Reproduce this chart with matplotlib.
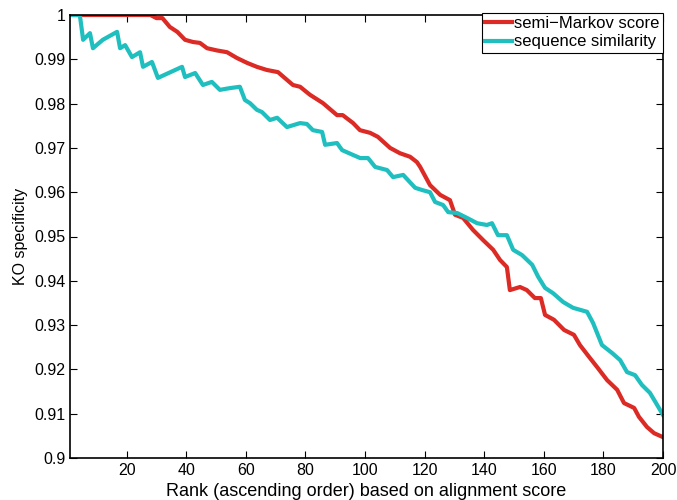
import matplotlib
matplotlib.use('Agg')
import matplotlib.pyplot as plt

plt.rcParams['font.family'] = ['Liberation Sans', 'DejaVu Sans']

# semi-Markov score curve (rank, specificity)
markov_rank = [1, 28, 30, 32, 34.5, 37, 39.6, 42.3, 44.6, 47, 50.3, 53.7, 57, 60.4, 63.7,
               67, 70.8, 75.8, 78.2, 81.5, 85.9, 90.6, 92.5, 96, 98.3, 101.7, 104.3,
               108.4, 111.7, 115.1, 117.4, 118.5, 121.8, 125.2, 128.5, 130.2, 132.9,
               136.2, 139.6, 143, 145.3, 147.6, 148.6, 152, 154.3, 157, 159, 160.4,
               163.4, 166.8, 170.1, 172.1, 175.2, 177.9, 181.2, 184.6, 186.9, 190.3,
               191.9, 194.6, 197, 200]
markov_spec = [1, 1, 0.9993, 0.9993, 0.9973, 0.9962, 0.9944, 0.9939, 0.9937, 0.9925,
               0.992, 0.9916, 0.9903, 0.9892, 0.9883, 0.9876, 0.9871, 0.9842, 0.9838,
               0.982, 0.9801, 0.9774, 0.9774, 0.9756, 0.974, 0.9734, 0.9725, 0.97,
               0.9688, 0.968, 0.9668, 0.9657, 0.9616, 0.9594, 0.9582, 0.9549, 0.9542,
               0.9515, 0.9492, 0.947, 0.9447, 0.9431, 0.9379, 0.9386, 0.9379, 0.9361,
               0.9361, 0.9323, 0.9312, 0.9289, 0.9278, 0.9255, 0.9228, 0.9205, 0.9176,
               0.9154, 0.9124, 0.9113, 0.9093, 0.907, 0.9056, 0.9047]

# sequence similarity curve
seq_rank = [1, 4.3, 5.4, 7.7, 8.7, 12, 16.8, 17.8, 19.5, 21.8, 24.5, 25.5, 28.5, 30.5,
            38.6, 39.6, 43, 45.6, 48.6, 51.3, 54.7, 58, 59.7, 61.4, 63.7, 65.4, 68.1,
            70.5, 73.8, 78.2, 80.5, 82.5, 85.6, 86.6, 90.6, 92.3, 96, 98.4, 101,
            103.4, 107.4, 109.4, 112.8, 116.8, 119.1, 121.8, 123.5, 126.2, 127.9,
            130.9, 134.2, 137.6, 140.9, 142.6, 144.6, 147.6, 149.7, 152.7, 156.1,
            158.1, 160.4, 163.1, 166.5, 169.8, 174.5, 176.5, 179.5, 182.9, 185.6,
            187.9, 190.6, 192.9, 195.6, 198, 200]
seq_spec = [1, 1, 0.9944, 0.9959, 0.9925, 0.9944, 0.9962, 0.9925, 0.9932, 0.9905,
            0.9916, 0.9883, 0.9894, 0.9858, 0.9883, 0.986, 0.9869, 0.9842, 0.9849,
            0.9831, 0.9835, 0.9838, 0.9808, 0.9801, 0.9786, 0.9781, 0.9763, 0.9768,
            0.9747, 0.9756, 0.9754, 0.974, 0.9736, 0.9707, 0.9711, 0.9695, 0.9684,
            0.9677, 0.9677, 0.9657, 0.965, 0.9634, 0.9639, 0.961, 0.9605, 0.96,
            0.9578, 0.9571, 0.9555, 0.9553, 0.9542, 0.953, 0.9526, 0.953, 0.9503,
            0.9503, 0.947, 0.9458, 0.9436, 0.9409, 0.9384, 0.9372, 0.9352, 0.9339,
            0.933, 0.9305, 0.9255, 0.9237, 0.9221, 0.9194, 0.9187, 0.9165, 0.9147,
            0.912, 0.9097]

xticks = list(range(20, 201, 20))
yticks = [0.9, 0.91, 0.92, 0.93, 0.94, 0.95, 0.96, 0.97, 0.98, 0.99, 1]
ytick_labels = ['0.9', '0.91', '0.92', '0.93', '0.94', '0.95', '0.96', '0.97', '0.98', '0.99', '1']

fig = plt.figure(figsize=(6.77, 5.0), dpi=100)
ax = fig.add_axes([0.1034, 0.084, 0.876, 0.886])

ax.plot(markov_rank, markov_spec, color='#dc2a25', lw=3, label='semi\u2212Markov score')
ax.plot(seq_rank, seq_spec, color='#1fbfbf', lw=3, label='sequence similarity')

ax.set_xlim(1, 200)
ax.set_ylim(0.9, 1)
ax.set_xticks(xticks)
ax.set_yticks(yticks)
ax.set_yticklabels(ytick_labels)
ax.tick_params(direction='in', top=True, right=True, labelsize=11.5, length=5, width=0.8)
for s in ax.spines.values():
    s.set_linewidth(1.2)

ax.set_xlabel('Rank (ascending order) based on alignment score', fontsize=13, labelpad=4)
ax.set_ylabel('KO specificity', fontsize=11.5)

leg = ax.legend(loc='upper right', bbox_to_anchor=(1.0, 1.005), fontsize=12,
                handlelength=1.6, handletextpad=0.15, borderpad=0.2, labelspacing=0.2,
                borderaxespad=0, fancybox=False, framealpha=1)
leg.get_frame().set_edgecolor('black')
leg.get_frame().set_linewidth(0.8)

fig.savefig('out.png', dpi=100)
